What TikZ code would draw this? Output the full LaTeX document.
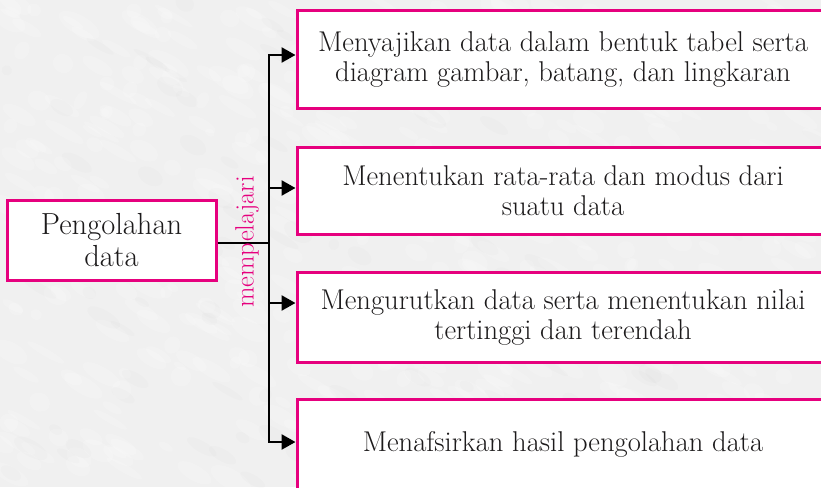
\documentclass[tikz,border=0pt]{standalone}
\usepackage{fontspec}
\usetikzlibrary{arrows.meta}
\definecolor{mag}{RGB}{230,0,126}
\definecolor{bg}{RGB}{240,240,240}
\definecolor{ink}{RGB}{28,26,27}
\begin{document}
\begin{tikzpicture}[x=1pt,y=-1pt,
  box/.style={draw=mag,line width=3pt,fill=white,align=center,text=ink,
    font=\fontsize{28.6}{30}\selectfont,inner sep=0pt},
  conn/.style={line width=2.6pt,draw=black},
  arr/.style={conn,-{Triangle[length=14pt,width=15pt]}}]
\fill[bg] (0,0) rectangle (821,487);
\useasboundingbox (0,0) rectangle (821,487);
\begin{scope}
\clip (0,0) rectangle (821,487);
\pgfmathsetseed{11}
\foreach \i in {1,...,500}{
  \fill[white,opacity=0.18] ({rnd*821},{rnd*487}) ellipse [x radius={5+rnd*18}, y radius={3+rnd*7}, rotate=-30];
}
\foreach \i in {1,...,120}{
  \fill[black,opacity=0.012] ({rnd*821},{rnd*487}) ellipse [x radius={5+rnd*16}, y radius={3+rnd*6}, rotate=-30];
}
\node[box,minimum width=209pt,minimum height=80pt,font=\fontsize{30.5}{32}\selectfont] (p) at (111.5,240) {Pengolahan\\data};
\node[box,minimum width=532pt,minimum height=97pt] (b1) at (563,59.5)
  {Menyajikan data dalam bentuk tabel serta\\diagram gambar, batang, dan lingkaran};
\node[box,minimum width=532pt,minimum height=87pt] (b2) at (563,190.5)
  {Menentukan rata-rata dan modus dari\\suatu data};
\node[box,minimum width=532pt,minimum height=90pt] (b3) at (563,317)
  {Mengurutkan data serta menentukan nilai\\tertinggi dan terendah};
\node[box,minimum width=532pt,minimum height=90pt] (b4) at (563,444)
  {Menafsirkan hasil pengolahan data};
\coordinate (j) at (269,243);
\coordinate (t1) at (269,55);
\coordinate (t2) at (269,188);
\coordinate (t3) at (269,303);
\coordinate (t4) at (269,442);
\draw[conn] (p.east |- j) -- (j);
\draw[conn] (t1) -- (t4);
\draw[arr] (t2) -- (t1) -- (t1 -| b1.west);
\draw[arr] (t2) -- (t2 -| b2.west);
\draw[arr] (t3) -- (t3 -| b3.west);
\draw[arr] (t3) -- (t4) -- (t4 -| b4.west);
\node[rotate=90,text=mag,font=\fontsize{26.5}{30}\selectfont,inner sep=0pt] (lab) at (247,242) {mempelajari};
\end{scope}
\end{tikzpicture}
\end{document}
